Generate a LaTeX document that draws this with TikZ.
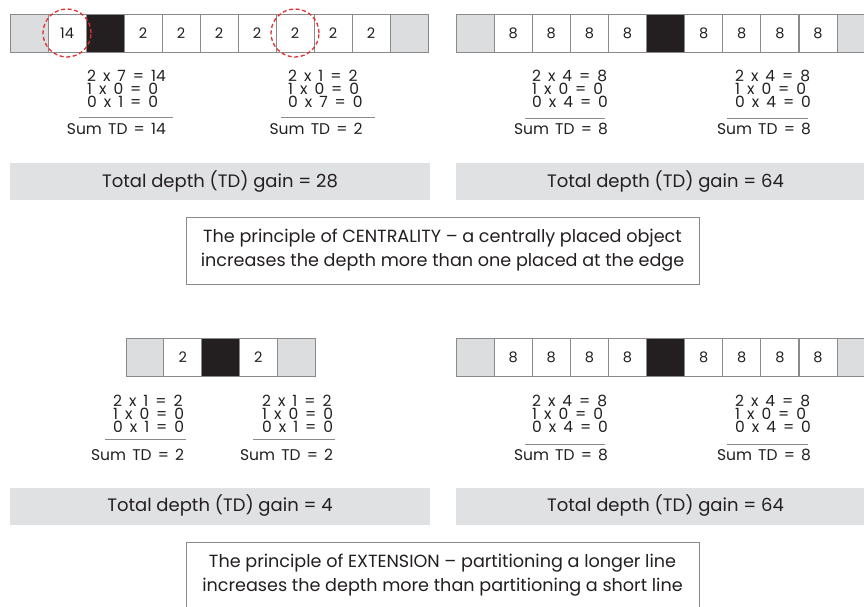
\documentclass[tikz,border=0pt]{standalone}
\usepackage{fontspec}
\setmainfont{Poppins}
\definecolor{cellgray}{HTML}{DCDDDF}
\definecolor{boxgray}{HTML}{E0E1E3}
\definecolor{cellblack}{HTML}{231F20}
\definecolor{cellline}{HTML}{8A8A8A}
\definecolor{ruleline}{HTML}{8A8A8A}
\definecolor{dashred}{HTML}{E0322E}
\definecolor{textcol}{HTML}{231F20}
\newcommand{\eqfont}{\fontsize{15.5}{13}\selectfont\spaceskip=0.45em plus 0.1em\relax}
\newcommand{\sumfont}{\fontsize{15.5}{13}\selectfont\spaceskip=0.4em plus 0.1em\relax}
\tikzset{
  cellbase/.style={draw=cellline, line width=0.8pt, minimum width=38pt, minimum height=38pt,
    inner sep=0pt, outer sep=0pt, font=\fontsize{14.5}{14.5}\selectfont, text=textcol},
  gcell/.style={cellbase, fill=cellgray},
  bcell/.style={cellbase, fill=cellblack},
  wcell/.style={cellbase, fill=white},
  eqlines/.style={inner sep=0pt, anchor=north west, align=left, font=\eqfont, text=textcol},
  sumline/.style={inner sep=0pt, anchor=base east, font=\sumfont, text=textcol},
  sumrule/.style={draw=ruleline, line width=0.8pt},
  gainbox/.style={fill=boxgray, draw=none, minimum height=37pt, inner sep=0pt,
    font=\fontsize{18}{18}\selectfont, text=textcol},
  principle/.style={draw=cellline, line width=0.8pt, fill=white, inner sep=0pt,
    align=center, font=\fontsize{17.6}{24}\selectfont, text=textcol},
  redring/.style={draw=dashred, line width=1.3pt, dash pattern=on 4pt off 2.6pt},
}
\begin{document}
\begin{tikzpicture}[x=1pt, y=-1pt]
\useasboundingbox (0,0) rectangle (864,607);
\fill[white] (0,0) rectangle (864,607);

% ---------- top-left strip ----------
\foreach \i/\s/\t in {1/gcell/{},2/wcell/14,3/bcell/{},4/wcell/2,5/wcell/2,6/wcell/2,7/wcell/2,8/wcell/2,9/wcell/2,10/wcell/2,11/gcell/{}}
  \node[\s] (tl\i) at (10+38*\i-19, 33) {\t};
\node[redring, circle, minimum size=48pt, inner sep=0pt] (ringa) at (tl2) {};
\node[redring, circle, minimum size=48pt, inner sep=0pt] (ringb) at (tl8) {};

% ---------- top-right strip ----------
\foreach \i/\s/\t in {1/gcell/{},2/wcell/8,3/wcell/8,4/wcell/8,5/wcell/8,6/bcell/{},7/wcell/8,8/wcell/8,9/wcell/8,10/wcell/8,11/gcell/{}}
  \node[\s] (tr\i) at (456+38.1*\i-19.05, 33) {\t};

% ---------- top-left equations ----------
\node[eqlines] (a) at (87,70) {2 x 7 = 14\\1 x 0 = 0\\0 x 1 = 0};
\draw[sumrule] (79,117) -- (173,117);
\node[sumline] (as) at (a.north east |- 0,135) {Sum TD = 14};

\node[eqlines] (b) at (288,70) {2 x 1 = 2\\1 x 0 = 0\\0 x 7 = 0};
\draw[sumrule] (281,117) -- (375,117);
\node[sumline] (bs) at (b.north east |- 0,135) {Sum TD = 2};

% ---------- top-right equations ----------
\node[eqlines] (c) at (532,70) {2 x 4 = 8\\1 x 0 = 0\\0 x 4 = 0};
\draw[sumrule] (525,118) -- (605,118);
\node[sumline] (cs) at (c.north east |- 0,135) {Sum TD = 8};

\node[eqlines] (d) at (735,70) {2 x 4 = 8\\1 x 0 = 0\\0 x 4 = 0};
\draw[sumrule] (727,118) -- (808,118);
\node[sumline] (ds) at (d.north east |- 0,135) {Sum TD = 8};

% ---------- gain boxes (top) ----------
\node[gainbox, minimum width=420pt] (g1) at (220,181.5) {Total depth (TD) gain = 28};
\node[gainbox, minimum width=419pt] (g2) at (665.5,181.5) {Total depth (TD) gain = 64};

% ---------- centrality box ----------
\node[principle, minimum width=513pt, minimum height=67pt] (p1) at (442.5,250.5)
  {The principle of CENTRALITY – a centrally placed object\\increases the depth more than one placed at the edge};

% ---------- bottom-left strip ----------
\foreach \i/\s/\t in {1/gcell/{},2/wcell/2,3/bcell/{},4/wcell/2,5/gcell/{}}
  \node[\s, minimum width=37.8pt] (bl\i) at (126+37.8*\i-18.9, 357) {\t};

% ---------- bottom-right strip ----------
\foreach \i/\s/\t in {1/gcell/{},2/wcell/8,3/wcell/8,4/wcell/8,5/wcell/8,6/bcell/{},7/wcell/8,8/wcell/8,9/wcell/8,10/wcell/8,11/gcell/{}}
  \node[\s] (br\i) at (456+38.1*\i-19.05, 357.5) {\t};

% ---------- bottom-left equations ----------
\node[eqlines] (e) at (113,395) {2 x 1 = 2\\1 x 0 = 0\\0 x 1 = 0};
\draw[sumrule] (105,439) -- (186,439);
\node[sumline] (es) at (e.north east |- 0,460) {Sum TD = 2};

\node[eqlines] (f) at (262,395) {2 x 1 = 2\\1 x 0 = 0\\0 x 1 = 0};
\draw[sumrule] (253,439) -- (335,439);
\node[sumline] (fs) at (f.north east |- 0,460) {Sum TD = 2};

% ---------- bottom-right equations ----------
\node[eqlines] (h) at (532,395) {2 x 4 = 8\\1 x 0 = 0\\0 x 4 = 0};
\draw[sumrule] (525,444) -- (605,444);
\node[sumline] (hs) at (h.north east |- 0,460) {Sum TD = 8};

\node[eqlines] (k) at (735,395) {2 x 4 = 8\\1 x 0 = 0\\0 x 4 = 0};
\draw[sumrule] (727,444) -- (808,444);
\node[sumline] (ks) at (k.north east |- 0,460) {Sum TD = 8};

% ---------- gain boxes (bottom) ----------
\node[gainbox, minimum width=420pt] (g3) at (220,506) {Total depth (TD) gain = 4};
\node[gainbox, minimum width=419pt] (g4) at (665.5,506) {Total depth (TD) gain = 64};

% ---------- extension box ----------
\node[principle, minimum width=513pt, minimum height=67pt] (p2) at (442.5,575.5)
  {The principle of EXTENSION – partitioning a longer line\\increases the depth more than partitioning a short line};
\end{tikzpicture}
\end{document}
